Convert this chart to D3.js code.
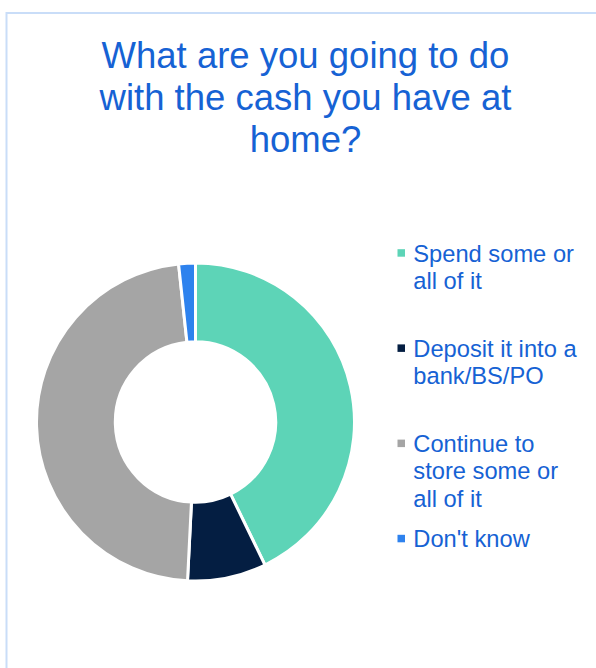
<!DOCTYPE html>
<html>
<head>
<meta charset="utf-8">
<script src="https://cdn.jsdelivr.net/npm/d3@7"></script>
<style>
  html, body { margin: 0; padding: 0; background: #ffffff; }
  svg { display: block; }
</style>
</head>
<body>
<svg id="chart" width="596" height="668"></svg>
<script>
// Survey answers: share of respondents (%)
const categories = [
  "Spend some or all of it",
  "Deposit it into a bank/BS/PO",
  "Continue to store some or all of it",
  "Don't know"
];
const values = [42.8, 8.0, 47.5, 1.7];
const colors = ["#5dd4b7", "#041e42", "#a5a5a5", "#2e82ee"];
// Legend text as wrapped lines
const legendLines = [
  ["Spend some or", "all of it"],
  ["Deposit it into a", "bank/BS/PO"],
  ["Continue to", "store some or", "all of it"],
  ["Don't know"]
];
const titleLines = [
  "What are you going to do",
  "with the cash you have at",
  "home?"
];

const textColor = "#1662d4";
const font = "'Liberation Sans', Arial, sans-serif";

const svg = d3.select("#chart");

// Chart frame
svg.append("rect")
  .attr("x", 6.5).attr("y", 13)
  .attr("width", 620).attr("height", 700)
  .attr("fill", "none")
  .attr("stroke", "#c9ddf8")
  .attr("stroke-width", 2);

// Title
const title = svg.append("text")
  .attr("font-family", font)
  .attr("font-size", 36.5)
  .attr("fill", textColor)
  .attr("text-anchor", "middle");
title.selectAll("tspan")
  .data(titleLines)
  .join("tspan")
  .attr("x", 305.5)
  .attr("y", (d, i) => 67.8 + i * 42.2)
  .text(d => d);

// Donut
const cx = 195.5, cy = 422;
const data = categories.map((c, i) => ({ name: c, value: values[i], color: colors[i] }));
const pie = d3.pie().value(d => d.value).sort(null).startAngle(0).endAngle(2 * Math.PI);
const arc = d3.arc().innerRadius(80.2).outerRadius(159);

svg.append("g")
  .attr("transform", `translate(${cx},${cy})`)
  .selectAll("path")
  .data(pie(data))
  .join("path")
  .attr("d", arc)
  .attr("fill", d => d.data.color)
  .attr("stroke", "#ffffff")
  .attr("stroke-width", 3)
  .attr("stroke-linejoin", "miter");

// Legend
const legendY = d3.scaleLinear().domain([0, 1]).range([261.7, 356.9]);
const legend = svg.append("g")
  .selectAll("g")
  .data(data)
  .join("g")
  .attr("transform", (d, i) => `translate(0,${legendY(i)})`);

legend.append("rect")
  .attr("x", 397.5).attr("y", -12.5)
  .attr("width", 7.5).attr("height", 7.5)
  .attr("fill", d => d.color);

legend.append("text")
  .attr("font-family", font)
  .attr("font-size", 23.7)
  .attr("fill", textColor)
  .selectAll("tspan")
  .data((d, i) => legendLines[i])
  .join("tspan")
  .attr("x", 413.3)
  .attr("y", (d, j) => j * 27.3)
  .text(d => d);
</script>
</body>
</html>
